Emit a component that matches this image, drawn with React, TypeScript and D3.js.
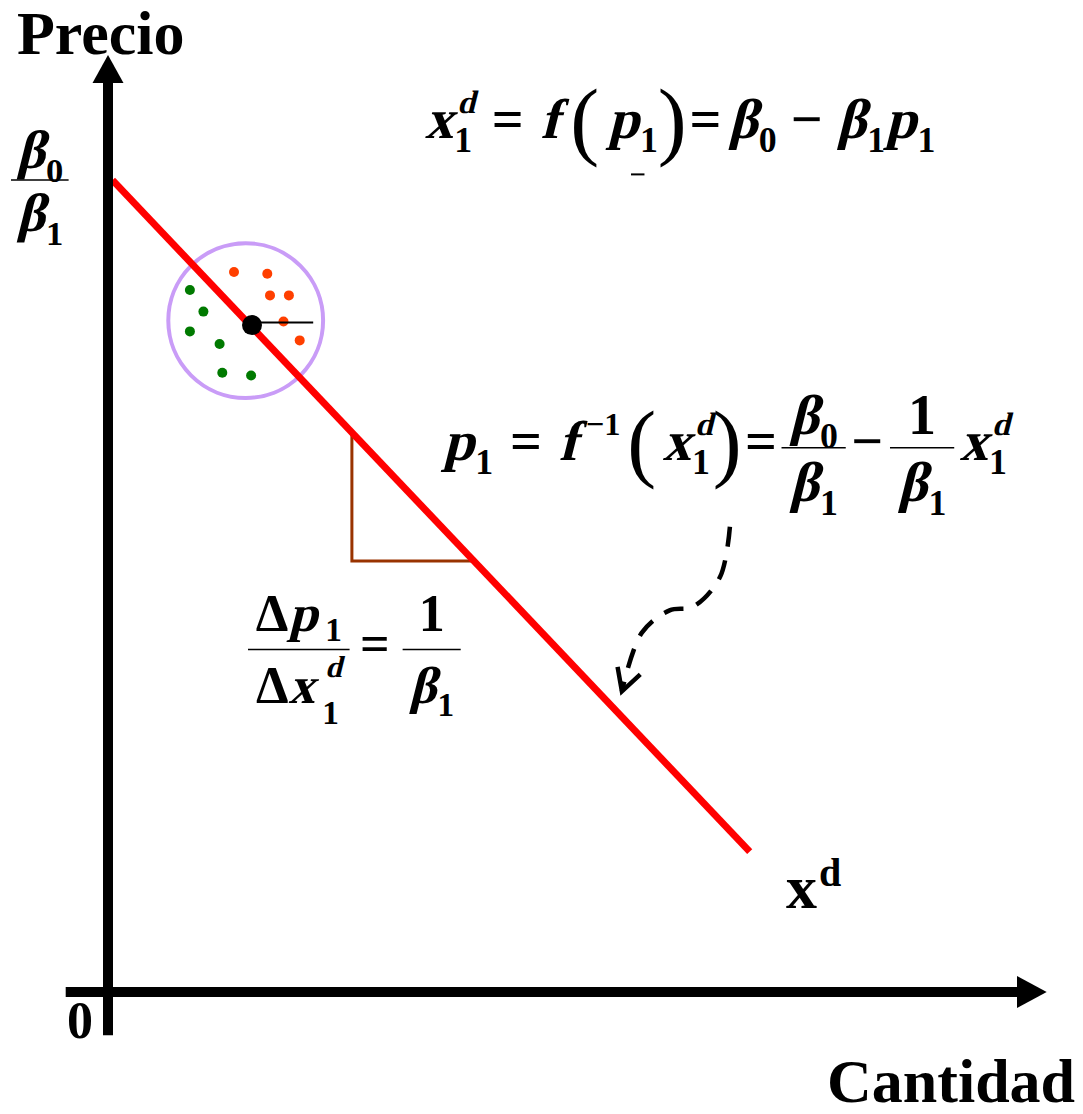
import { useEffect, useRef } from "react";
import * as d3 from "d3";

const W = 1083;
const H = 1114;
const FONT = '"Liberation Serif", "Times New Roman", serif';

// demand line (cantidad, precio)
const demandQ = [0.5, 71.3];
const demandP = [90.2, 15.6];

// slope triangle
const triangleQ = [27.1, 27.1, 40.4];
const triangleP = [62.2, 47.9, 47.9];

// circle around the observed point
const circleQ = 15.3;
const circleP = 74.6;
const circleR = 8.6;
const pointQ = 16.0;
const pointP = 74.1;
const tickEndQ = 22.8;
const tickP = 74.4;

const redQ = [14.0, 17.7, 18.0, 20.1, 19.5, 21.3];
const redP = [80.0, 79.8, 77.4, 77.4, 74.5, 72.4];
const greenQ = [9.1, 10.6, 9.1, 12.4, 12.7, 15.9];
const greenP = [78.0, 75.6, 73.4, 72.0, 68.8, 68.5];

// dashed arrow
const arrowQ = [69.1, 68.0, 65.0, 62.4, 59.3, 57.1];
const arrowP = [51.7, 46.1, 42.8, 42.4, 39.9, 33.4];

type Atom = {
  t?: string;
  it?: boolean;
  sub?: string;
  sup?: string;
  supIt?: boolean;
  subDy?: number;
  supDy?: number;
  subDx?: number;
  supDx?: number;
  subSize?: number;
  supSize?: number;
  l?: number;
  r?: number;
  paren?: boolean;
  under?: boolean;
  num?: Atom[];
  den?: Atom[];
  numUp?: number;
  denDown?: number;
  pad?: number;
};

// italic is faked with a skew of the bold upright face (no bold italic serif installed)
function put(g: any, txt: string, x: number, y: number, fs: number, it: boolean, weight = "bold") {
  const el = g.append("text")
    .attr("transform", it ? `translate(${x},${y}) skewX(-14)` : `translate(${x},${y})`)
    .attr("font-family", FONT).attr("font-size", fs)
    .attr("font-weight", weight)
    .text(txt);
  return (el.node() as SVGTextElement).getComputedTextLength();
}

function layout(g: any, atoms: Atom[], x0: number, base: number, fs: number): number {
  let x = x0;
  for (const a of atoms) {
    x += (a.l ?? 0) * fs;
    if (a.num && a.den) {
      const gn = g.append("g");
      const gd = g.append("g");
      const wn = layout(gn, a.num, 0, 0, fs);
      const wd = layout(gd, a.den, 0, 0, fs);
      const w = Math.max(wn, wd) + (a.pad ?? 0.16) * fs;
      const axis = base - 0.22 * fs;
      g.append("line")
        .attr("x1", x).attr("x2", x + w).attr("y1", axis).attr("y2", axis)
        .attr("stroke", "#000").attr("stroke-width", 1.5);
      gn.attr("transform", `translate(${x + (w - wn) / 2},${axis - (a.numUp ?? 0.24) * fs})`);
      gd.attr("transform", `translate(${x + (w - wd) / 2},${axis + (a.denDown ?? 0.95) * fs})`);
      x += w;
    } else if (a.paren) {
      x += put(g, a.t!, x, base + 0.2 * fs, fs * 1.55, false, "normal");
    } else {
      const w = put(g, a.t!, x, base, fs, !!a.it);
      if (a.under) {
        g.append("line")
          .attr("x1", x + w * 0.75).attr("x2", x + w * 0.75 + 0.24 * fs)
          .attr("y1", base + 0.65 * fs).attr("y2", base + 0.65 * fs)
          .attr("stroke", "#000").attr("stroke-width", 2);
      }
      x += w;
      let ws = 0;
      if (a.sub) {
        const dx = (a.subDx ?? 0.02) * fs;
        ws = put(g, a.sub, x + dx, base + (a.subDy ?? 0.25) * fs, fs * (a.subSize ?? 0.64), false) + dx;
      }
      if (a.sup) {
        const dx = (a.supDx ?? 0.07) * fs;
        const wp = put(g, a.sup, x + dx, base + (a.supDy ?? -0.45) * fs, fs * (a.supSize ?? 0.58),
          a.supIt ?? true) + dx;
        ws = Math.max(ws, wp);
      }
      x += ws;
    }
    x += (a.r ?? 0) * fs;
  }
  return x - x0;
}

const formula1: Atom[] = [
  { t: "x", it: true, sub: "1", sup: "d" },
  { t: "=", l: 0.3, r: 0.3 },
  { t: "f", it: true, r: 0.2 },
  { t: "(", paren: true, r: 0.15 },
  { t: "p", it: true, sub: "1", under: true },
  { t: ")", paren: true, r: 0.05 },
  { t: "=", r: 0.12 },
  { t: "β", it: true, sub: "0", r: 0.25 },
  { t: "−", r: 0.25 },
  { t: "β", it: true, sub: "1" },
  { t: "p", it: true, sub: "1" },
];

const formula2: Atom[] = [
  { t: "p", it: true, sub: "1" },
  { t: "=", l: 0.3, r: 0.3 },
  { t: "f", it: true, sup: "−1", supIt: false, supDx: 0.15, r: 0.12 },
  { t: "(", paren: true, r: 0.12 },
  { t: "x", it: true, sub: "1", sup: "d" },
  { t: ")", paren: true, r: 0.06 },
  { t: "=", r: 0.08 },
  { num: [{ t: "β", it: true, sub: "0" }], den: [{ t: "β", it: true, sub: "1" }], pad: 0.28 },
  { t: "−", l: 0.1, r: 0.12 },
  { num: [{ t: "1" }], den: [{ t: "β", it: true, sub: "1" }], pad: 0.28 },
  { t: "x", it: true, sub: "1", sup: "d", l: 0.1 },
];

const formula3: Atom[] = [
  {
    num: [{ t: "Δ" }, { t: "p", it: true, sub: "1", subDx: 0.15, subDy: 0.2 }],
    den: [{ t: "Δ" }, { t: "x", it: true, sub: "1", sup: "d", subDx: 0.15, supDx: 0.2, subDy: 0.42, supDy: -0.5 }],
    numUp: 0.36,
    denDown: 1.02,
    pad: 0.3,
  },
  { t: "=", l: 0.2, r: 0.25 },
  { num: [{ t: "1" }], den: [{ t: "β", it: true, sub: "1" }], numUp: 0.36, denDown: 1.02, pad: 0.25 },
];

const leftFrac: Atom[] = [
  { num: [{ t: "β", it: true, sub: "0" }], den: [{ t: "β", it: true, sub: "1" }], numUp: 0.22, denDown: 0.95, pad: 0.2 },
];

export default function App() {
  const ref = useRef<SVGSVGElement>(null);

  useEffect(() => {
    document.body.style.margin = "0";
    const svg = d3.select(ref.current!);
    svg.selectAll("*").remove();

    const x = d3.scaleLinear().domain([0, 100]).range([108, 1008]);
    const y = d3.scaleLinear().domain([0, 100]).range([992, 92]);

    // circle
    svg.append("circle")
      .attr("cx", x(circleQ)).attr("cy", y(circleP))
      .attr("r", x(circleQ + circleR) - x(circleQ))
      .attr("fill", "none").attr("stroke", "#c99cf7").attr("stroke-width", 4);

    // triangle
    svg.append("path")
      .attr("d", d3.line()(triangleQ.map((q, i) => [x(q), y(triangleP[i])] as [number, number])))
      .attr("fill", "none").attr("stroke", "#993300").attr("stroke-width", 3);

    // demand line
    svg.append("path")
      .attr("d", d3.line()(demandQ.map((q, i) => [x(q), y(demandP[i])] as [number, number])))
      .attr("stroke", "#ff0000").attr("stroke-width", 7);

    svg.selectAll("circle.red")
      .data(redQ)
      .enter().append("circle")
      .attr("class", "red")
      .attr("cx", d => x(d)).attr("cy", (d, i) => y(redP[i]))
      .attr("r", 5).attr("fill", "#ff3f00");

    svg.selectAll("circle.green")
      .data(greenQ)
      .enter().append("circle")
      .attr("class", "green")
      .attr("cx", d => x(d)).attr("cy", (d, i) => y(greenP[i]))
      .attr("r", 5).attr("fill", "#007a00");

    svg.append("circle")
      .attr("cx", x(pointQ)).attr("cy", y(pointP)).attr("r", 10).attr("fill", "#000");
    svg.append("line")
      .attr("x1", x(pointQ)).attr("x2", x(tickEndQ))
      .attr("y1", y(tickP)).attr("y2", y(tickP))
      .attr("stroke", "#000").attr("stroke-width", 2);

    // axes
    svg.append("line")
      .attr("x1", x(0)).attr("x2", x(0)).attr("y1", y(-4.8)).attr("y2", y(101))
      .attr("stroke", "#000").attr("stroke-width", 10);
    svg.append("path")
      .attr("d", `M${x(0)},${y(104.1)}L${x(0) - 15.5},${y(101)}L${x(0) + 15.5},${y(101)}Z`)
      .attr("fill", "#000");
    svg.append("line")
      .attr("x1", x(-4.7)).attr("x2", x(101)).attr("y1", y(0)).attr("y2", y(0))
      .attr("stroke", "#000").attr("stroke-width", 10);
    svg.append("path")
      .attr("d", `M${x(104.3)},${y(0)}L${x(101)},${y(0) - 16}L${x(101)},${y(0) + 16}Z`)
      .attr("fill", "#000");

    // dashed arrow
    const pts = arrowQ.map((q, i) => [x(q), y(arrowP[i])] as [number, number]);
    svg.append("path")
      .attr("d", d3.line().curve(d3.curveCatmullRom)(pts))
      .attr("fill", "none").attr("stroke", "#000").attr("stroke-width", 4.5)
      .attr("stroke-dasharray", "20 14");
    const tip = pts[pts.length - 1];
    const prev = pts[pts.length - 2];
    const ang = Math.atan2(tip[1] - prev[1], tip[0] - prev[0]);
    const head = [ang + Math.PI - 0.5, ang + Math.PI + 0.5].map(a => [tip[0] + 25 * Math.cos(a), tip[1] + 25 * Math.sin(a)]);
    svg.append("path")
      .attr("d", `M${head[0][0]},${head[0][1]}L${tip[0]},${tip[1]}L${head[1][0]},${head[1][1]}`)
      .attr("fill", "none").attr("stroke", "#000").attr("stroke-width", 4.5);

    // labels
    put(svg, "Precio", 17, 54, 62, false);
    put(svg, "0", 67, 1038, 52, false);
    put(svg, "Cantidad", 827, 1102, 62, false);
    const wx = put(svg, "x", 786, 908, 62, false);
    put(svg, "d", 788 + wx, 886, 40, false);

    layout(svg.append("g"), leftFrac, 11, 192, 54);
    layout(svg.append("g"), formula1, 425, 138, 56);
    layout(svg.append("g"), formula2, 443, 460, 56);
    layout(svg.append("g"), formula3, 248, 661, 52);
  }, []);

  return <svg ref={ref} width={W} height={H} style={{ display: "block", background: "#fff" }} />;
}
